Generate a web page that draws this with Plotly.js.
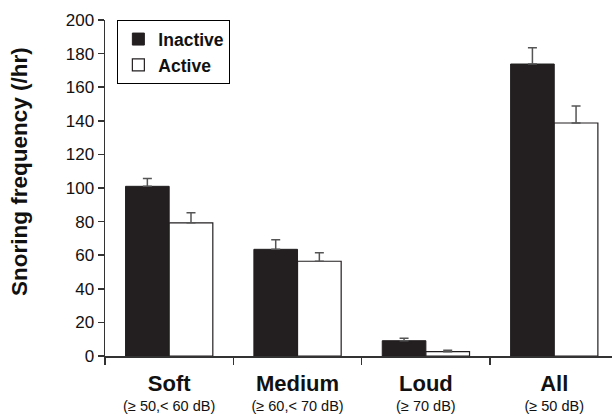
<!DOCTYPE html>
<html>
<head>
<meta charset="utf-8">
<script src="https://cdn.plot.ly/plotly-3.0.1.min.js"></script>
<style>
html,body{margin:0;padding:0;background:#fff;}
#chart{width:612px;height:416px;}
</style>
</head>
<body>
<div id="chart"></div>
<script>
const categories = ["Soft", "Medium", "Loud", "All"];
const subLabels = ["(≥ 50,&lt; 60 dB)", "(≥ 60,&lt; 70 dB)", "(≥ 70 dB)", "(≥ 50 dB)"];
const inactive = [101, 63.5, 9.1, 173.8];
const inactiveErr = [4.7, 5.7, 1.4, 9.7];
const active = [79.3, 56.4, 2.6, 138.7];
const activeErr = [6.0, 5.0, 0.8, 10.1];
const yTicks = [0, 20, 40, 60, 80, 100, 120, 140, 160, 180, 200];

const regular = "'Liberation Sans', Arial, sans-serif";
const xpos = categories.map((c, i) => i);
const zeros = categories.map(() => 0);
const ticktext = categories.map((c, i) =>
  "<span style='font-size:22px;font-weight:bold'>" + c + "</span><br><span style='font-size:14.5px'>" + subLabels[i] + "</span>");

const traces = [
  {
    type: "bar", name: "Inactive", x: xpos, y: inactive,
    marker: {color: "#231f20", line: {color: "#231f20", width: 1}},
    error_y: {type: "data", symmetric: false, array: inactiveErr, arrayminus: zeros,
              color: "#555", thickness: 1.5, width: 4.5}
  },
  {
    type: "bar", name: "Active", x: xpos, y: active,
    marker: {color: "#ffffff", line: {color: "#231f20", width: 1.2}},
    error_y: {type: "data", symmetric: false, array: activeErr, arrayminus: zeros,
              color: "#555", thickness: 1.5, width: 4.5}
  }
];

const layout = {
  width: 612, height: 416,
  margin: {l: 105, r: 0, t: 20, b: 60},
  paper_bgcolor: "#fff", plot_bgcolor: "#fff",
  barmode: "group", bargap: 0.32, bargroupgap: 0,
  showlegend: true,
  legend: {x: 0.024, y: 1.0, xanchor: "left", yanchor: "top",
           bgcolor: "#fff", bordercolor: "#000", borderwidth: 1.2,
           font: {family: regular, size: 17.5, color: "#111", weight: "bold"}, traceorder: "normal"},
  xaxis: {
    type: "linear", range: [-0.5, 3.45],
    tickvals: xpos, ticktext: ticktext, ticks: "",
    tickfont: {family: regular, size: 15.5, color: "#111"},
    ticklabelstandoff: 15,
    showgrid: false, zeroline: false,
    showline: true, linecolor: "#333", linewidth: 1.5,
    minor: {tick0: 0.5, dtick: 1, ticks: "outside", ticklen: 7, tickwidth: 1.5, tickcolor: "#333", showgrid: false}
  },
  yaxis: {
    range: [0, 200], tickvals: yTicks, ticks: "outside", ticklen: 6, tickwidth: 1.5, tickcolor: "#333",
    tickfont: {family: regular, size: 17, color: "#111"},
    showgrid: false, zeroline: false,
    showline: true, linecolor: "#333", linewidth: 1.5
  },
  annotations: [{
    text: "<b>Snoring frequency (/hr)</b>", textangle: -90,
    xref: "paper", yref: "paper", x: -0.17, y: 0.55, xanchor: "center", yanchor: "middle",
    showarrow: false, font: {family: regular, size: 22.5, color: "#111"}
  }]
};

Plotly.newPlot("chart", traces, layout, {staticPlot: true, displayModeBar: false});
</script>
</body>
</html>
